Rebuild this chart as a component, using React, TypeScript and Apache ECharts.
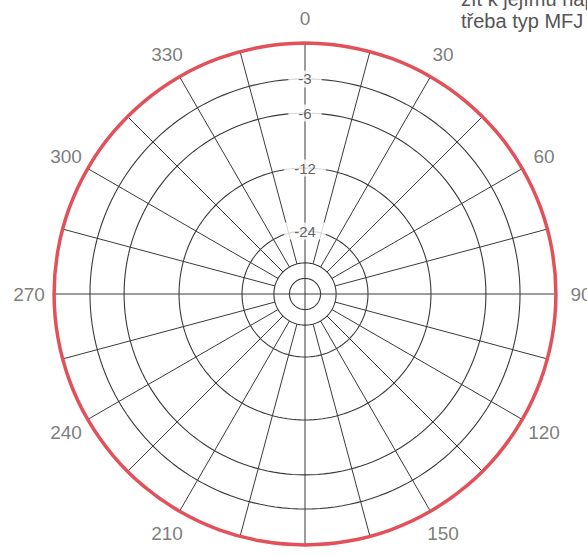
import React, { useEffect, useRef } from 'react';
import * as echarts from 'echarts';

// Angle tick labels (degrees, clockwise from top); 180 lies below the visible area
const angleTickValues = [0, 30, 60, 90, 120, 150, 210, 240, 270, 300, 330];
const angleTickLabels = ['0', '30', '60', '90', '120', '150', '210', '240', '270', '300', '330'];

// Spokes of the grid, every 15 degrees
const spokeAngles = [0, 15, 30, 45, 60, 75, 90, 105, 120, 135, 150, 165, 180, 195, 210, 225, 240, 255, 270, 285, 300, 315, 330, 345];
const cardinalAngles = [0, 90, 180, 270];

// Labelled dB rings (radius as a fraction of the 0 dB circle, log-periodic scale)
const ringLabels = ['-3', '-6', '-12', '-24'];
const ringRadii = [0.857, 0.721, 0.502, 0.251];
// Unlabelled inner rings
const innerRingRadii = [0.124, 0.062];
const outerRingRadius = 1;

// Measured pattern (relative level, 0 dB circle = 1)
const patternAngles = [0, 10, 20, 30, 40, 50, 60, 70, 80, 90, 100, 110, 120, 130, 140, 150, 160, 170, 180, 190, 200, 210, 220, 230, 240, 250, 260, 270, 280, 290, 300, 310, 320, 330, 340, 350, 360];
const patternValues = [1, 1, 1, 1, 1, 1, 1, 1, 1, 1, 1, 1, 1, 1, 1, 1, 1, 1, 1, 1, 1, 1, 1, 1, 1, 1, 1, 1, 1, 1, 1, 1, 1, 1, 1, 1, 1];

const LABEL_R = 1.1;
const GRID_COLOR = '#3a3a3a';

export default function App() {
  const ref = useRef<HTMLDivElement>(null);

  useEffect(() => {
    if (!ref.current) return;
    const chart = echarts.init(ref.current, null, { renderer: 'svg' });

    const fineAngles = Array.from({ length: 181 }, (_, i) => i * 2);
    const ringSeries = (r: number) => ({
      type: 'line',
      coordinateSystem: 'polar',
      data: fineAngles.map((a) => [r, a]),
      symbol: 'none',
      silent: true,
      lineStyle: { color: GRID_COLOR, width: 1.1 },
      z: 1,
    });

    const spokeSeries = spokeAngles.map((a) => ({
      type: 'line',
      coordinateSystem: 'polar',
      data: [
        [cardinalAngles.includes(a) ? 0 : innerRingRadii[0], a],
        [outerRingRadius, a],
      ],
      symbol: 'none',
      silent: true,
      lineStyle: { color: GRID_COLOR, width: 1 },
      z: 1,
    }));

    const option: any = {
      animation: false,
      backgroundColor: '#ffffff',
      polar: { center: [305, 294], radius: 276 },
      angleAxis: {
        type: 'value',
        min: 0,
        max: 360,
        startAngle: 90,
        clockwise: true,
        axisLine: { show: false },
        axisTick: { show: false },
        axisLabel: { show: false },
        splitLine: { show: false },
      },
      radiusAxis: {
        type: 'value',
        min: 0,
        max: LABEL_R,
        axisLine: { show: false },
        axisTick: { show: false },
        axisLabel: { show: false },
        splitLine: { show: false },
      },
      graphic: [
        {
          type: 'text',
          x: 461,
          y: -11,
          style: {
            text: 'žít k jejímu napájení',
            fill: '#555',
            font: '20px "Liberation Sans", Arial, sans-serif',
            verticalAlign: 'top',
          },
        },
        {
          type: 'text',
          x: 461,
          y: 11,
          style: {
            text: 'třeba typ MFJ',
            fill: '#555',
            font: '20px "Liberation Sans", Arial, sans-serif',
            verticalAlign: 'top',
          },
        },
      ],
      series: [
        ...[outerRingRadius, ...ringRadii, ...innerRingRadii].map(ringSeries),
        ...spokeSeries,
        {
          type: 'line',
          coordinateSystem: 'polar',
          data: patternAngles.map((a, i) => [patternValues[i], a]),
          symbol: 'none',
          smooth: 0.4,
          silent: true,
          lineStyle: { color: '#e2505a', width: 3.5 },
          z: 3,
        },
        {
          type: 'scatter',
          coordinateSystem: 'polar',
          data: ringRadii.map((r, i) => ({ value: [r, 0], name: ringLabels[i] })),
          symbolSize: 1,
          itemStyle: { color: 'rgba(0,0,0,0)' },
          silent: true,
          z: 5,
          label: {
            show: true,
            position: 'inside',
            formatter: (p: any) => p.name,
            color: '#3a3a3a',
            fontSize: 15,
            fontFamily: '"Liberation Sans", Arial, sans-serif',
            backgroundColor: '#ffffff',
            padding: [1, 10],
          },
        },
        {
          type: 'scatter',
          coordinateSystem: 'polar',
          data: angleTickValues.map((a, i) => ({ value: [LABEL_R, a], name: angleTickLabels[i] })),
          symbolSize: 1,
          itemStyle: { color: 'rgba(0,0,0,0)' },
          silent: true,
          z: 5,
          label: {
            show: true,
            position: 'inside',
            formatter: (p: any) => p.name,
            color: '#5a5a5a',
            fontSize: 19,
            fontFamily: '"Liberation Sans", Arial, sans-serif',
          },
        },
      ],
    };

    chart.setOption(option);
    return () => chart.dispose();
  }, []);

  return (
    <div
      ref={ref}
      style={{ position: 'fixed', left: 0, top: 0, width: 587, height: 556, background: '#fff' }}
    />
  );
}
